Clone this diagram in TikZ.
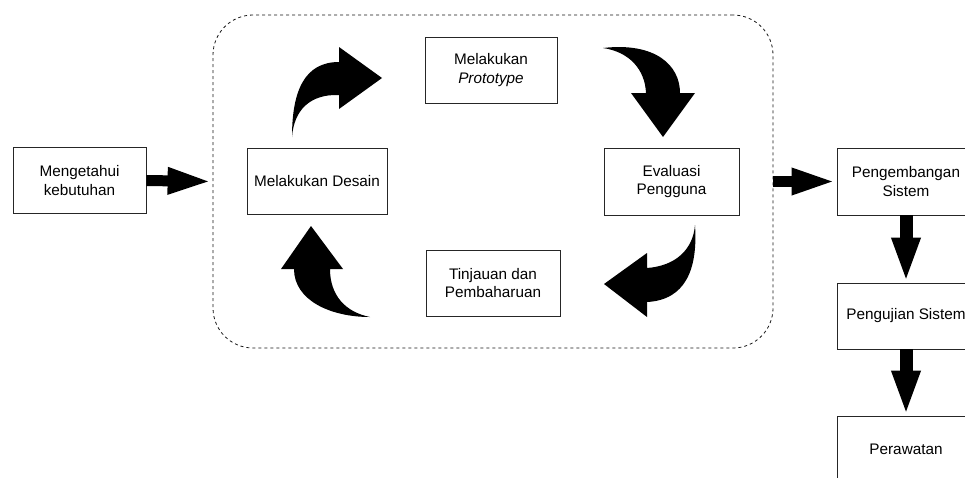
\documentclass[tikz,border=0pt]{standalone}
\usepackage{fontspec}
\setmainfont{Liberation Sans}
\usetikzlibrary{arrows.meta}
\tikzset{
  box/.style={draw=black!85, line width=0.8pt, align=center, inner sep=0pt,
    font=\fontsize{15.3}{18.5}\selectfont},
  flow/.style={line width=11pt, -{Triangle[length=45pt,width=24pt]}},
  flowv/.style={line width=13pt, -{Triangle[length=45pt,width=26pt]}},
  loopbox/.style={draw=black!90, line width=0.8pt, dash pattern=on 3pt off 3pt,
    rounded corners=40pt, inner sep=0pt},
  curved/.style={fill=black, draw=none}
}
\begin{document}
\begin{tikzpicture}[x=1pt,y=-1pt]
\clip (0,0) rectangle (965,477);
\fill[white] (0,0) rectangle (965,477);

% dashed loop container
\node[loopbox, minimum width=560pt, minimum height=333pt] (loop) at (493,181.5) {};

% boxes
\node[box, minimum width=133pt, minimum height=66pt] (know) at (79.5,180.5) {Mengetahui\\kebutuhan};
\node[box, minimum width=140pt, minimum height=66pt] (desain) at (317,181) {Melakukan Desain};
\node[box, minimum width=132pt, minimum height=66pt] (proto) at (491,70) {Melakukan\\\textit{Prototype}};
\node[box, minimum width=135pt, minimum height=67pt] (eval) at (671.5,181.5) {Evaluasi\\Pengguna};
\node[box, minimum width=134pt, minimum height=66pt] (tinj) at (493,283) {Tinjauan dan\\Pembaharuan};
\node[box, minimum width=138pt, minimum height=67pt] (dev) at (906,181.5) {Pengembangan\\Sistem};
\node[box, minimum width=138pt, minimum height=66pt] (test) at (906,316) {Pengujian Sistem};
\node[box, minimum width=138pt, minimum height=66pt] (rawat) at (906,449) {Perawatan};

% straight block arrows
\draw[flow] (know.east) -- (loop.west);
\draw[flow] (loop.east) -- (dev.west);
\draw[flowv] (dev.south) -- (test.north);
\draw[flowv] (test.south) -- (rawat.north);

% curved block arrows of the cycle
% Desain -> Prototype
\fill[curved] (292,137) .. controls (292,90) and (305,62) .. (339,62)
  -- (339,47) -- (382,78) -- (339,109) -- (339,95)
  .. controls (310,94) and (294,110) .. (292,137) -- cycle;
% Prototype -> Evaluasi
\fill[curved] (603,48) .. controls (655,42) and (680,65) .. (680,93)
  -- (695,93) -- (663,137) -- (631,93) -- (646,93)
  .. controls (645,70) and (630,52) .. (603,48) -- cycle;
% Evaluasi -> Tinjauan
\fill[curved] (695,225) .. controls (698,270) and (685,300) .. (647,302)
  -- (647,317) -- (604,284) -- (647,253) -- (647,268)
  .. controls (675,266) and (693,250) .. (695,225) -- cycle;
% Tinjauan -> Desain
\fill[curved] (311,226) -- (343,269) -- (330,269)
  .. controls (330,295) and (345,312) .. (370,317)
  .. controls (330,317) and (294,300) .. (294,269)
  -- (281,269) -- cycle;
\end{tikzpicture}
\end{document}
